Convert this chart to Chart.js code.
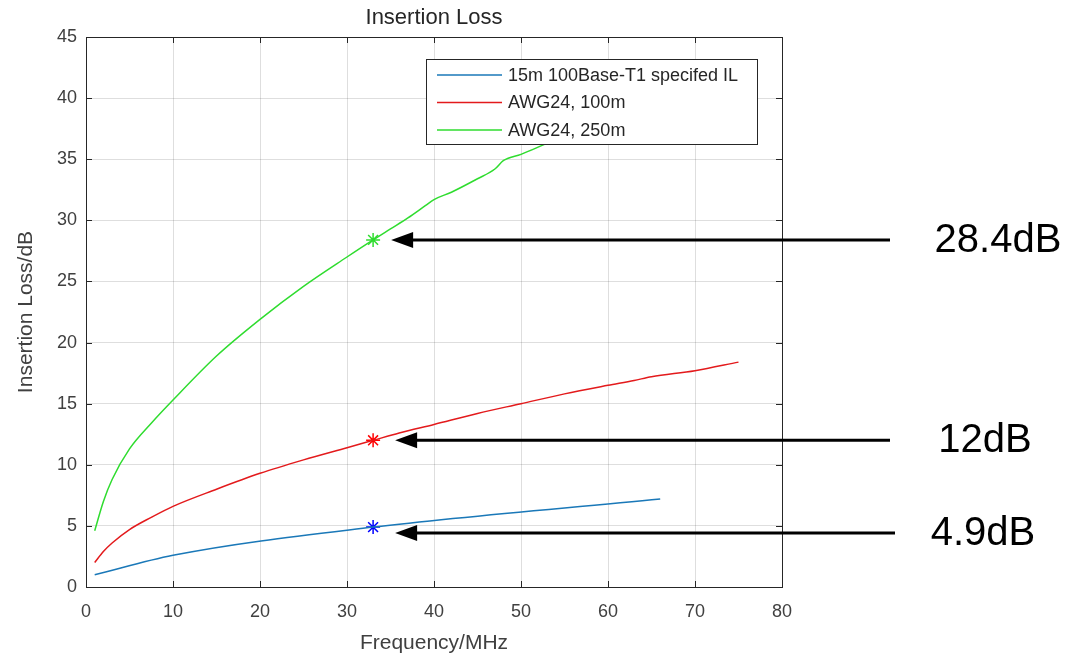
<!DOCTYPE html>
<html>
<head>
<meta charset="utf-8">
<script src="https://cdn.jsdelivr.net/npm/chart.js@4/dist/chart.umd.min.js"></script>
<style>
  html, body { margin: 0; padding: 0; background: #fff; }
  #wrap { width: 1076px; height: 658px; }
</style>
</head>
<body>
<div id="wrap"><canvas id="ilChart" width="1076" height="658"></canvas></div>
<script>
// data
const seriesNames = ["15m 100Base-T1 specifed IL", "AWG24, 100m", "AWG24, 250m"];

const blueFreq = [1, 10, 33, 66];
const blueIL = [1.0, 2.6, 4.9, 7.2];

const redFreq = [1, 2, 3, 5, 7.5, 10, 15, 20, 25, 30, 33, 36, 40, 45, 50, 55, 60, 63, 65, 70, 75];
const redIL = [2.0, 2.9, 3.6, 4.7, 5.7, 6.6, 8.0, 9.3, 10.4, 11.4, 12.0, 12.6, 13.3, 14.2, 15.0, 15.8, 16.5, 16.9, 17.2, 17.7, 18.4];

const greenFreq = [1, 2, 3, 5, 7.5, 10, 15, 20, 25, 30, 33, 35, 37, 39, 40, 42, 45, 47, 48, 50, 53, 60, 65, 70, 75];
const greenIL = [4.6, 7.0, 8.8, 11.3, 13.4, 15.3, 18.9, 21.9, 24.6, 27.0, 28.4, 29.3, 30.2, 31.2, 31.7, 32.3, 33.4, 34.2, 34.9, 35.4, 36.3, 38.3, 39.7, 41.0, 42.2];

const markerFreq = [33, 33, 33];
const markerIL = [28.4, 12, 4.9];
const markerLabels = ["28.4dB", "12dB", "4.9dB"];

const xTicks = { min: 0, max: 80, step: 10 };
const yTicks = { min: 0, max: 45, step: 5 };

const lineColors = ["#1a78b8", "#e31a1c", "#2fdc2f"];
const markerColors = ["#2fdc2f", "#ff0000", "#0000ff"];

const FONT = "'Liberation Sans', Arial, Helvetica, sans-serif";
const toPoints = (xs, ys) => xs.map((v, i) => ({ x: v, y: ys[i] }));

// ✅ Box, inner ticks, title, legend and arrow notes
const overlayPlugin = {
  id: "overlay",
  afterDraw(chart) {
    const { ctx, chartArea: a, scales: { x, y } } = chart;
    ctx.save();

    // axes box
    ctx.strokeStyle = "#262626";
    ctx.lineWidth = 1;
    ctx.strokeRect(Math.round(a.left) + 0.5, Math.round(a.top) + 0.5,
      Math.round(a.right - a.left), Math.round(a.bottom - a.top));

    // inner tick marks
    ctx.beginPath();
    x.ticks.forEach(t => {
      const px = Math.round(x.getPixelForValue(t.value)) + 0.5;
      ctx.moveTo(px, a.bottom); ctx.lineTo(px, a.bottom - 6);
      ctx.moveTo(px, a.top); ctx.lineTo(px, a.top + 6);
    });
    y.ticks.forEach(t => {
      const py = Math.round(y.getPixelForValue(t.value)) + 0.5;
      ctx.moveTo(a.left, py); ctx.lineTo(a.left + 6, py);
      ctx.moveTo(a.right, py); ctx.lineTo(a.right - 6, py);
    });
    ctx.stroke();

    // title
    ctx.fillStyle = "#262626";
    ctx.font = "22px " + FONT;
    ctx.textAlign = "center";
    ctx.textBaseline = "middle";
    ctx.fillText("Insertion Loss", (a.left + a.right) / 2, 18);

    // legend
    const lx = 426, ly = 59, lw = 331, lh = 85;
    ctx.fillStyle = "#fff";
    ctx.fillRect(lx, ly, lw, lh);
    ctx.strokeStyle = "#262626";
    ctx.strokeRect(lx + 0.5, ly + 0.5, lw, lh);
    ctx.font = "18px " + FONT;
    ctx.textAlign = "left";
    seriesNames.forEach((name, i) => {
      const ry = ly + 16 + i * 27.5;
      ctx.strokeStyle = lineColors[i];
      ctx.lineWidth = 1.5;
      ctx.beginPath();
      ctx.moveTo(lx + 11, ry); ctx.lineTo(lx + 76, ry);
      ctx.stroke();
      ctx.fillStyle = "#262626";
      ctx.fillText(name, lx + 82, ry + 1);
    });

    // arrows + labels
    const yShift = [0, 0, 6];
    const tipGap = [18, 22, 22];
    const labelCenter = [998, 985, 983];
    markerIL.forEach((v, i) => {
      const py = y.getPixelForValue(v) + yShift[i];
      const tip = x.getPixelForValue(markerFreq[i]) + tipGap[i];
      const tail = 890 + (i === 2 ? 5 : 0);
      ctx.strokeStyle = "#000";
      ctx.fillStyle = "#000";
      ctx.lineWidth = 3;
      ctx.beginPath();
      ctx.moveTo(tail, py); ctx.lineTo(tip + 18, py);
      ctx.stroke();
      ctx.beginPath();
      ctx.moveTo(tip, py);
      ctx.lineTo(tip + 22, py - 8);
      ctx.lineTo(tip + 22, py + 8);
      ctx.closePath();
      ctx.fill();
      ctx.font = "40px " + FONT;
      ctx.textAlign = "center";
      ctx.fillText(markerLabels[i], labelCenter[i], py + 1);
    });

    ctx.restore();
  }
};

const lineSet = (label, xs, ys, color) => ({
  label, data: toPoints(xs, ys), showLine: true,
  borderColor: color, borderWidth: 1.5, pointRadius: 0, fill: false
});

new Chart(document.getElementById("ilChart"), {
  type: "scatter",
  data: {
    datasets: [
      lineSet(seriesNames[0], blueFreq, blueIL, lineColors[0]),
      lineSet(seriesNames[1], redFreq, redIL, lineColors[1]),
      lineSet(seriesNames[2], greenFreq, greenIL, lineColors[2]),
      {
        label: "markers",
        data: toPoints(markerFreq, markerIL),
        pointStyle: "star",
        pointRadius: 7,
        borderWidth: 1.5,
        pointBorderColor: markerColors,
        pointBackgroundColor: markerColors,
        showLine: false
      }
    ]
  },
  options: {
    responsive: false,
    animation: false,
    layout: { padding: { left: 0, right: 294, top: 37, bottom: 0 } },
    plugins: { legend: { display: false }, tooltip: { enabled: false } },
    elements: { line: { cubicInterpolationMode: "monotone" } },
    scales: {
      x: {
        type: "linear",
        min: xTicks.min, max: xTicks.max,
        afterFit: s => { s.height = 71; },
        ticks: { stepSize: xTicks.step, color: "#404040", font: { size: 18, family: FONT }, padding: 14 },
        grid: { color: "rgba(0,0,0,0.13)", drawTicks: false },
        border: { display: false },
        title: { display: true, text: "Frequency/MHz", color: "#404040", font: { size: 21, family: FONT }, padding: { top: 0, bottom: 2 } }
      },
      y: {
        type: "linear",
        min: yTicks.min, max: yTicks.max,
        afterFit: s => { s.width = 86; },
        ticks: { stepSize: yTicks.step, color: "#404040", font: { size: 18, family: FONT }, padding: 9 },
        grid: { color: "rgba(0,0,0,0.13)", drawTicks: false },
        border: { display: false },
        title: { display: true, text: "Insertion Loss/dB", color: "#404040", font: { size: 21, family: FONT }, padding: { top: 14, bottom: 0 } }
      }
    }
  },
  plugins: [overlayPlugin]
});
</script>
</body>
</html>
